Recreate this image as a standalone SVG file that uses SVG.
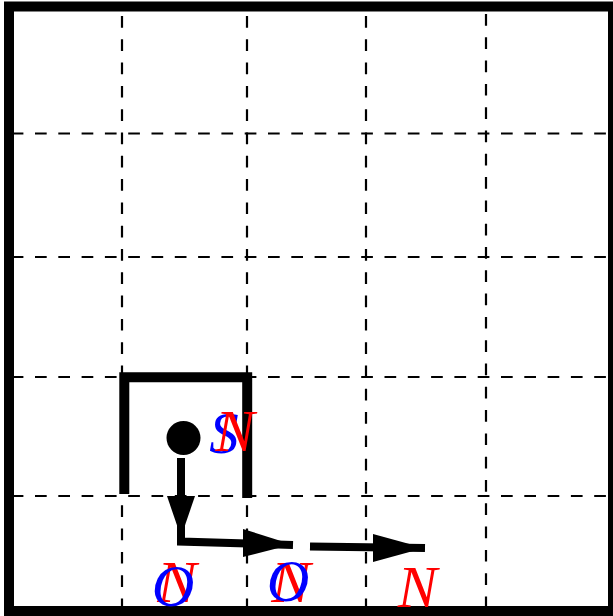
<svg xmlns="http://www.w3.org/2000/svg" width="613" height="616" viewBox="0 0 613 616">
<style>
.grid{stroke:#000;stroke-width:2.2;stroke-dasharray:11.7 11.6;fill:none}
.wall{stroke:#000;stroke-width:10;fill:none;stroke-linejoin:miter;stroke-linecap:butt}
.shaft{stroke:#000;stroke-width:8;fill:none;stroke-linecap:butt;stroke-linejoin:miter}
.head{fill:#000}
.lbl{font-family:"Liberation Serif","Times New Roman",serif;font-style:italic;font-size:59px;text-anchor:middle}
.r{fill:#ff0000}
.b{fill:#0000ff}
</style>
<rect x="0" y="0" width="613" height="616" fill="#fff"/>
<g id="grid">
<line class="grid" x1="122" y1="16" x2="122" y2="606"/>
<line class="grid" x1="247" y1="16" x2="247" y2="606"/>
<line class="grid" x1="366" y1="16" x2="366" y2="606"/>
<line class="grid" x1="486" y1="14" x2="486" y2="606"/>
<line class="grid" x1="11.7" y1="133.5" x2="608" y2="133.5"/>
<line class="grid" x1="11.7" y1="257" x2="608" y2="257"/>
<line class="grid" x1="11.7" y1="377" x2="608" y2="377"/>
<line class="grid" x1="11.7" y1="496" x2="608" y2="496"/>
</g>
<rect id="frame" x="9" y="6.5" width="604" height="604.5" fill="none" stroke="#000" stroke-width="10"/>
<g id="walls">
<path class="wall" d="M124.3,494 V377.2 H247.2 V498"/>
</g>
<g id="agent">
<circle cx="183.5" cy="438" r="17" fill="#000"/>
</g>
<g id="connectors">
<path class="shaft" d="M181,458 V541.5 L293,545"/>
<polygon class="head" points="167,496 195,496 181,537"/>
<polygon class="head" points="243,529 243,557 292,544.5"/>
<path class="shaft" d="M310,546.5 L425,548"/>
<polygon class="head" points="373,534 373,562 424,548"/>
</g>
<g id="label-S-N">
<text class="lbl b" x="224" y="453" font-size="62">S</text>
<text class="lbl r" x="235" y="451">N</text>
</g>
<g id="label-N-O-1">
<text class="lbl r" x="177" y="602">N</text>
<text class="lbl b" x="173" y="606">O</text>
</g>
<g id="label-N-O-2">
<text class="lbl r" x="291" y="602">N</text>
<text class="lbl b" x="288" y="601">O</text>
</g>
<g id="label-N-3">
<text class="lbl r" x="417.5" y="607">N</text>
</g>
</svg>
